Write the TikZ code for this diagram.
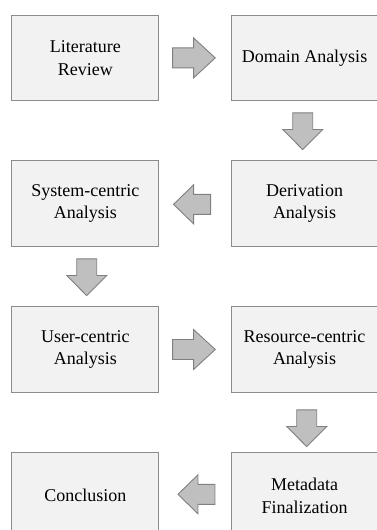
\documentclass[tikz,border=0pt]{standalone}
\usepackage{fontspec}
\setmainfont{Liberation Serif}
\usetikzlibrary{calc}
\definecolor{boxfill}{HTML}{F2F2F2}
\definecolor{boxline}{HTML}{8C8C8C}
\definecolor{arrfill}{HTML}{BFBFBF}
\definecolor{arrline}{HTML}{808080}
\begin{document}
\begin{tikzpicture}[x=1pt,y=-1pt,
  stage/.style={draw=boxline, fill=boxfill, line width=0.9pt,
    minimum width=147pt, minimum height=85.7pt, inner sep=0pt,
    align=center, font=\fontsize{18}{22.5}\selectfont},
  blockarrow/.style={draw=arrline, fill=arrfill, line width=0.9pt, line join=miter},
  rarrow/.pic={\path[blockarrow] (0,-10) -- (21,-10) -- (21,-20) -- (42.7,0)
      -- (21,20) -- (21,10) -- (0,10) -- cycle;},
  larrow/.pic={\path[blockarrow] (0,0) -- (20,-19.5) -- (20,-10) -- (37,-10)
      -- (37,10) -- (20,10) -- (20,19.5) -- cycle;},
  darrow/.pic={\path[blockarrow] (-10,0) -- (10,0) -- (10,16.7) -- (20,16.7)
      -- (0,36.8) -- (-20,16.7) -- (-10,16.7) -- cycle;}]
\useasboundingbox (0,0) rectangle (376,530);

% process stages
\node[stage] (lit) at (85.3,57.9)  {Literature\\Review};
\node[stage] (dom) at (304.5,57.9) {Domain Analysis};
\node[stage] (sys) at (85.3,203.7) {System-centric\\Analysis};
\node[stage] (der) at (304.5,203.7) {Derivation\\Analysis};
\node[stage] (usr) at (85.3,349.5) {User-centric\\Analysis};
\node[stage] (res) at (304.5,349.5) {Resource-centric\\Analysis};
\node[stage] (con) at (85.3,495.7) {Conclusion};
\node[stage] (met) at (304.5,495.7) {Metadata\\Finalization};

% block arrows between stages
\pic at ($(lit.east)+(13.3,0)$) {rarrow};
\pic at ($(dom.south)+(-1.8,11.6)$) {darrow};
\pic at ($(sys.east)+(14.3,0.6)$) {larrow};
\pic at ($(sys.south)+(1.4,11.8)$) {darrow};
\pic at ($(usr.east)+(13.3,0)$) {rarrow};
\pic at ($(res.south)+(2.2,17)$) {darrow};
\pic at ($(con.east)+(18.7,-1.4)$) {larrow};
\end{tikzpicture}
\end{document}
